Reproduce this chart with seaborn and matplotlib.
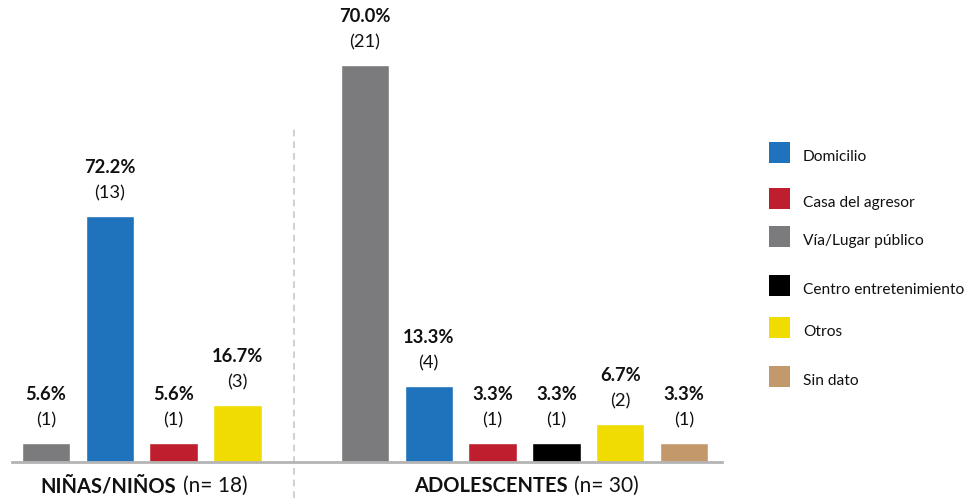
import matplotlib
matplotlib.use("Agg")
import matplotlib.pyplot as plt
import matplotlib.transforms as mtransforms
from matplotlib.patches import Rectangle
import seaborn as sns
import pandas as pd

# ---------------- data ----------------
groups = ["NIÑAS/NIÑOS", "ADOLESCENTES"]
group_n = ["(n= 18)", "(n= 30)"]

ninos_locs = ["Vía/Lugar público", "Domicilio", "Casa del agresor", "Otros"]
ninos_counts = [1, 13, 1, 3]
ninos_pcts = [5.6, 72.2, 5.6, 16.7]

adol_locs = ["Vía/Lugar público", "Domicilio", "Casa del agresor",
             "Centro entretenimiento", "Otros", "Sin dato"]
adol_counts = [21, 4, 1, 1, 2, 1]
adol_pcts = [70.0, 13.3, 3.3, 3.3, 6.7, 3.3]

legend_order = ["Domicilio", "Casa del agresor", "Vía/Lugar público",
                "Centro entretenimiento", "Otros", "Sin dato"]
colors = {
    "Domicilio": "#1F73BD",
    "Casa del agresor": "#BE1E2D",
    "Vía/Lugar público": "#7B7B7D",
    "Centro entretenimiento": "#000000",
    "Otros": "#F0DC00",
    "Sin dato": "#C3996B",
}

# positions (layout only)
ninos_pos = [0, 1, 2, 3]
adol_pos = [5, 6, 7, 8, 9, 10]

df = pd.DataFrame({
    "pos": ninos_pos + adol_pos,
    "count": ninos_counts + adol_counts,
    "pct": ninos_pcts + adol_pcts,
    "loc": ninos_locs + adol_locs,
})

# ---------------- figure ----------------
sns.set_style("white")
plt.rcParams["font.family"] = ["Lato", "DejaVu Sans"]

W, H = 973, 498
fig = plt.figure(figsize=(W / 100, H / 100), dpi=100)

ax_left_px, ax_right_px = 12, 722
ax_base_px, ax_top_px = 462, 10
ax = fig.add_axes([ax_left_px / W, (H - ax_base_px) / H,
                   (ax_right_px - ax_left_px) / W, (ax_base_px - ax_top_px) / H])

sns.barplot(data=df, x="pos", y="count", hue="loc", palette=colors,
            native_scale=True, dodge=False, width=0.756, saturation=1,
            legend=False, ax=ax)

px_per_unit = 63.8
x0 = (ax_left_px - 46) / px_per_unit
x1 = x0 + (ax_right_px - ax_left_px) / px_per_unit
ax.set_xlim(x0, x1)
ax.set_ylim(0, (ax_base_px - ax_top_px) / 18.9)

for s in ["top", "right", "left"]:
    ax.spines[s].set_visible(False)
ax.spines["bottom"].set_color("#B4B4B4")
ax.spines["bottom"].set_linewidth(2)
ax.set_xticks([])
ax.set_yticks([])
ax.set_xlabel("")
ax.set_ylabel("")

# value labels
for _, r in df.iterrows():
    ax.annotate(f"{r['pct']:.1f}%", xy=(r["pos"], r["count"]),
                xytext=(0, 49), textcoords="offset pixels",
                ha="center", va="center", fontsize=13.2, fontweight="bold",
                color="#111111")
    ax.annotate(f"({int(r['count'])})", xy=(r["pos"], r["count"]),
                xytext=(0, 23), textcoords="offset pixels",
                ha="center", va="center", fontsize=13.2, color="#111111")

# separator
trans = mtransforms.blended_transform_factory(ax.transData, fig.transFigure)
ax.plot([3.88, 3.88], [0, (H - 128) / H], transform=trans, clip_on=False,
        color="#C8C8C8", lw=1.2, ls=(0, (4, 3)))

# group labels
fig.canvas.draw()
renderer = fig.canvas.get_renderer()
centers = [sum(ninos_pos) / len(ninos_pos), sum(adol_pos) / len(adol_pos)]
label_y = (H - 486) / H
for c, g, n in zip(centers, groups, group_n):
    cx = ax.transData.transform((c, 0))[0]
    t1 = fig.text(0, label_y, g, fontsize=14.5, fontweight="bold",
                  va="center", ha="left", color="#111111")
    t2 = fig.text(0, label_y, n, fontsize=15, va="center", ha="left",
                  color="#111111")
    w1 = t1.get_window_extent(renderer).width
    w2 = t2.get_window_extent(renderer).width
    gap = 7
    start = cx + 2 - (w1 + gap + w2) / 2
    t1.set_x(start / W)
    t2.set_x((start + w1 + gap) / W)

# legend (manual, uneven spacing as in reference)
sq_tops = [142, 188, 226, 275, 317, 366]
for name, top in zip(legend_order, sq_tops):
    fig.patches.append(Rectangle((769 / W, (H - top - 21) / H), 21 / W, 21 / H,
                                 transform=fig.transFigure, figure=fig,
                                 facecolor=colors[name], edgecolor="none"))
    fig.text(803 / W, (H - (top + 15)) / H, name, fontsize=11.2,
             va="center", ha="left", color="#111111")

fig.savefig("out.png", dpi=100)
